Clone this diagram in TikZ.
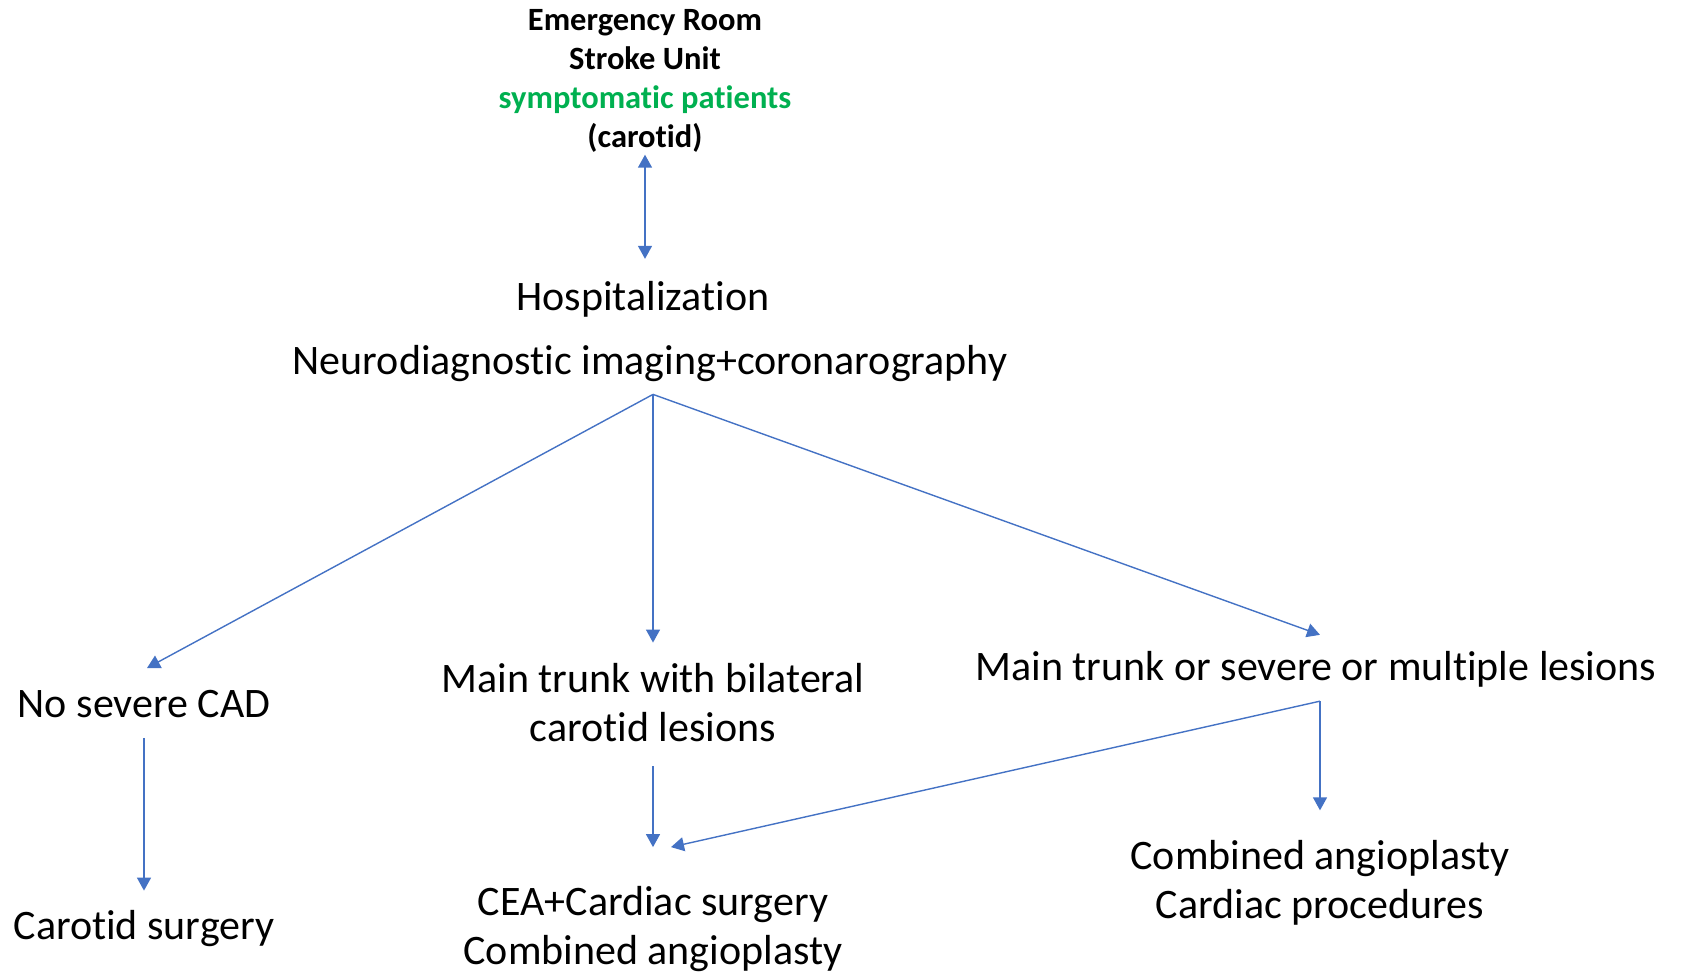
\documentclass[tikz,border=0pt]{standalone}
\usepackage{fontspec}
\setmainfont{Carlito}[Ligatures=NoCommon]
\usetikzlibrary{arrows.meta}
\definecolor{arrowblue}{RGB}{68,114,196}
\definecolor{symgreen}{RGB}{0,176,80}

\begin{document}
\begin{tikzpicture}[x=1pt, y=-1pt,
    every node/.style={font=\fontsize{42}{49}\selectfont, align=center, inner sep=0pt},
    head/.style={font=\bfseries\fontsize{32.5}{39}\selectfont},
    link/.style={arrowblue, line width=1.4pt, -{Triangle[width=14pt,length=13pt]}}]
    \useasboundingbox (0,0) rectangle (1685,973);
    % Top
    \node[head] (entry) at (645,81) {Emergency Room\\Stroke Unit\\\textcolor{symgreen}{symptomatic patients}\\(carotid)};
    \node (hosp) at (643,299) {Hospitalization};
    \node (neuro) at (650,364) {Neurodiagnostic imaging+coronarography};
    \coordinate (split) at ([xshift=3pt,yshift=-12pt]neuro.south);
    % Branches
    \node (nocad) at (144,704) {No severe CAD};
    \node (bilat) at (653,703) {Main trunk with bilateral\\carotid lesions};
    \node (multi) at (1316,669) {Main trunk or severe or multiple lesions};
    \coordinate (split2) at ([xshift=4pt,yshift=-14pt]multi.south);
    % Outcomes
    \node (carsurg) at (144,929) {Carotid surgery};
    \node (cea) at (653,929) {CEA+Cardiac surgery\\Combined angioplasty};
    \node (angio) at (1320,883) {Combined angioplasty\\Cardiac procedures};
    % Arrows
    \draw[link, {Triangle[width=14pt,length=13pt]}-{Triangle[width=14pt,length=13pt]}] ([yshift=-2pt]entry.south) -- ([xshift=2pt,yshift=22pt]hosp.north);
    \draw[link] (split) -- ([xshift=3pt,yshift=22pt]nocad.north);
    \draw[link] (split) -- ([yshift=21pt]bilat.north);
    \draw[link] (split) -- ([xshift=4pt,yshift=16pt]multi.north);
    \draw[link] ([yshift=-20pt]nocad.south) -- ([yshift=20pt]carsurg.north);
    \draw[link] ([yshift=-24pt]bilat.south) -- ([yshift=39pt]cea.north);
    \draw[link] (split2) -- ([yshift=30pt]angio.north);
    \draw[link] (split2) -- ([xshift=18pt,yshift=39pt]cea.north);
\end{tikzpicture}
\end{document}
